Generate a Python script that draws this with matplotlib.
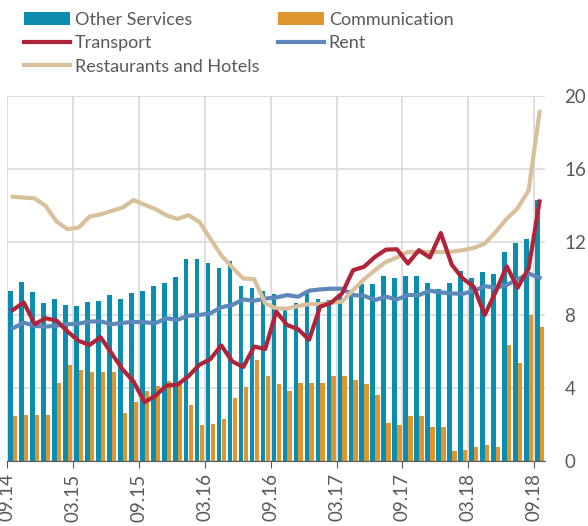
import matplotlib
matplotlib.use('Agg')
import matplotlib.pyplot as plt
import numpy as np

plt.rcParams['font.family'] = ['Lato', 'DejaVu Sans']

##############################################################################
## Data, monthly 09.14 - 09.18

other_services = [9.3, 9.78, 9.25, 8.64, 8.85, 8.55, 8.47, 8.73, 8.78, 9.09,
                  8.85, 9.2, 9.31, 9.56, 9.76, 10.07, 11.04, 11.07, 10.84, 10.6,
                  10.93, 9.58, 9.47, 9.31, 9.16, 8.4, 8.64, 9.18, 8.85, 8.82,
                  9.09, 9.36, 9.67, 9.69, 10.11, 10.05, 10.16, 10.11, 9.73, 9.4,
                  9.76, 10.4, 10.0, 10.35, 10.22, 11.47, 11.93, 12.16, 14.29]
communication = [2.45, 2.5, 2.5, 2.5, 4.25, 5.27, 4.96, 4.85, 4.85, 4.85,
                 2.64, 3.22, 3.85, 4.09, 4.36, 4.2, 3.05, 1.95, 2.05, 2.31,
                 3.45, 4.07, 5.55, 4.67, 4.24, 3.85, 4.29, 4.29, 4.29, 4.65,
                 4.65, 4.45, 4.2, 3.6, 2.09, 1.95, 2.44, 2.44, 1.85, 1.87,
                 0.55, 0.62, 0.78, 0.85, 0.78, 6.38, 5.36, 8.02, 7.33]
transport = [8.27, 8.69, 7.5, 7.82, 7.69, 7.09, 6.58, 6.36, 6.78, 5.9,
             5.02, 4.36, 3.22, 3.58, 4.13, 4.18, 4.64, 5.27, 5.58, 6.33,
             5.45, 5.15, 6.27, 6.13, 8.18, 7.45, 7.22, 6.64, 8.45, 8.67,
             9.18, 10.45, 10.64, 11.18, 11.58, 11.6, 10.82, 11.55, 11.15, 12.49,
             10.75, 10.0, 9.55, 8.0, 9.27, 10.67, 9.49, 10.55, 14.22]
rent = [7.27, 7.58, 7.4, 7.36, 7.42, 7.49, 7.53, 7.64, 7.65, 7.49,
        7.57, 7.62, 7.6, 7.55, 7.82, 7.73, 7.96, 8.0, 8.09, 8.42,
        8.55, 8.85, 8.78, 8.9, 8.96, 9.09, 9.0, 9.33, 9.4, 9.44,
        9.44, 9.09, 9.05, 8.82, 9.0, 8.85, 9.09, 9.09, 9.33, 9.24,
        9.18, 9.16, 9.31, 9.58, 9.49, 9.64, 9.95, 10.27, 10.04]
restaurants = [14.48, 14.43, 14.39, 13.97, 13.11, 12.7, 12.79, 13.39, 13.51, 13.7,
               13.88, 14.3, 14.04, 13.8, 13.46, 13.26, 13.47, 13.1, 12.18, 11.27,
               10.6, 10.0, 9.96, 8.64, 8.36, 8.35, 8.49, 8.6, 8.6, 8.67,
               8.73, 9.36, 9.95, 10.45, 10.91, 11.15, 11.45, 11.45, 11.45, 11.45,
               11.47, 11.55, 11.67, 11.91, 12.55, 13.27, 13.85, 14.82, 19.13]

tick_labels = ['09.14', '03.15', '09.15', '03.16', '09.16',
               '03.17', '09.17', '03.18', '09.18']

##############################################################################
## Plotting

teal = '#0A8DAF'
orange = '#E0962F'
red = '#B0243A'
blue = '#5D88B9'
tan = '#D8C09A'
grey = '#595959'

x = np.arange(len(other_services))

fig = plt.figure(figsize=(5.88, 5.26), dpi=100)
ax = fig.add_axes([0.0124, 0.1236, 0.9146, 0.694])

b1 = ax.bar(x - 0.2, other_services, width=0.42, color=teal, zorder=2,
            label='Other Services')
b2 = ax.bar(x + 0.23, communication, width=0.4, color=orange, zorder=2,
            label='Communication')
l1, = ax.plot(x, transport, color=red, lw=3, zorder=4, label='Transport')
l2, = ax.plot(x, rent, color=blue, lw=3, zorder=3, label='Rent')
l3, = ax.plot(x, restaurants, color=tan, lw=3, zorder=3,
              label='Restaurants and Hotels')

ax.set_xlim(-0.5, 48.5)
ax.set_ylim(0, 20)
ax.set_xticks(np.arange(-0.5, 48, 6))
ax.set_xticklabels(tick_labels, rotation=90, fontsize=13.5, color=grey)
ax.set_yticks(np.arange(0, 21, 4))
ax.yaxis.tick_right()
ax.tick_params(axis='y', length=0, labelsize=13.5, labelcolor=grey, pad=14)
ax.tick_params(axis='x', length=5, color=grey, pad=4)

ax.grid(True, color='#d9d9d9', lw=1.2, zorder=0)
ax.set_axisbelow(True)
for s in ['top', 'right', 'left']:
    ax.spines[s].set_visible(False)
ax.spines['bottom'].set_color(grey)
ax.spines['bottom'].set_zorder(5)

fig.legend([b1, l1, l3, b2, l2],
           ['Other Services', 'Transport', 'Restaurants and Hotels',
            'Communication', 'Rent'],
           ncol=2, loc='upper left', bbox_to_anchor=(0.041, 0.978),
           frameon=False, fontsize=13, labelcolor=grey,
           handlelength=2.55, handletextpad=0.28, columnspacing=1.0,
           labelspacing=0.42, borderpad=0, borderaxespad=0)

plt.savefig('out.png', dpi=100)
